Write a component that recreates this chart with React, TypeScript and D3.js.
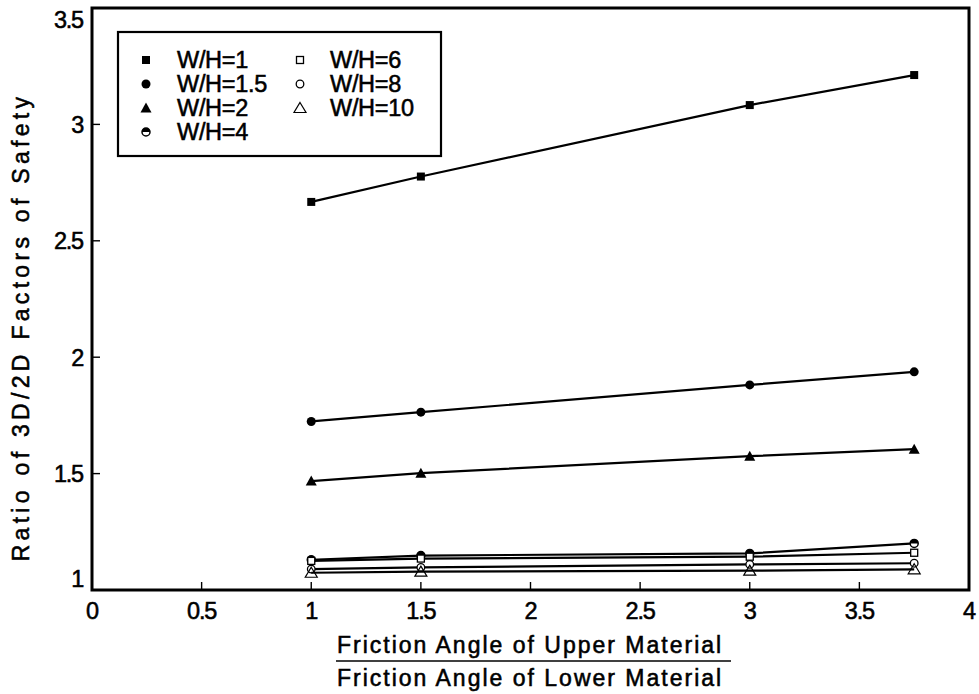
import React from "react";
import * as d3 from "d3";

const xValues = [1, 1.5, 3, 3.75];
const seriesNames = ["W/H=1", "W/H=1.5", "W/H=2", "W/H=4", "W/H=6", "W/H=8", "W/H=10"];
const wh1 = [2.667, 2.776, 3.083, 3.212];
const wh15 = [1.724, 1.764, 1.881, 1.937];
const wh2 = [1.468, 1.502, 1.575, 1.605];
const wh4 = [1.13, 1.148, 1.157, 1.2];
const wh6 = [1.125, 1.135, 1.143, 1.16];
const wh8 = [1.09, 1.097, 1.11, 1.115];
const wh10 = [1.074, 1.079, 1.083, 1.089];
const markerKinds = ["fsquare", "fcircle", "ftriangle", "halfcircle", "osquare", "ocircle", "otriangle"];
const xTicks = [0, 0.5, 1, 1.5, 2, 2.5, 3, 3.5, 4];
const xTickLabels = ["0", "0.5", "1", "1.5", "2", "2.5", "3", "3.5", "4"];
const yTicks = [1, 1.5, 2, 2.5, 3, 3.5];
const yTickLabels = ["1", "1.5", "2", "2.5", "3", "3.5"];

const allSeries = [wh1, wh15, wh2, wh4, wh6, wh8, wh10];

const FONT = "'Liberation Sans', Arial, Helvetica, sans-serif";
const TEXT_STROKE = { stroke: "#000", strokeWidth: 0.55 };

function Marker({ kind, x, y }: { kind: string; x: number; y: number }) {
  switch (kind) {
    case "fsquare":
      return <rect x={x - 4} y={y - 4} width={8} height={8} fill="#000" />;
    case "fcircle":
      return <circle cx={x} cy={y} r={4.5} fill="#000" />;
    case "ftriangle":
      return <path d={`M${x},${y - 5.5}L${x + 5.5},${y + 4.5}L${x - 5.5},${y + 4.5}Z`} fill="#000" />;
    case "halfcircle":
      return (
        <g>
          <circle cx={x} cy={y} r={4} fill="#fff" stroke="#000" strokeWidth={1.5} />
          <path d={`M${x - 4},${y}A4,4 0 0 1 ${x + 4},${y}Z`} fill="#000" />
        </g>
      );
    case "osquare":
      return <rect x={x - 3.5} y={y - 3.5} width={7} height={7} fill="#fff" stroke="#000" strokeWidth={1.3} />;
    case "ocircle":
      return <circle cx={x} cy={y} r={3.8} fill="#fff" stroke="#000" strokeWidth={1.3} />;
    case "otriangle":
      return <path d={`M${x},${y - 5.5}L${x + 6},${y + 4.5}L${x - 6},${y + 4.5}Z`} fill="none" stroke="#000" strokeWidth={1.2} />;
    default:
      return null;
  }
}

export default function App() {
  const W = 979;
  const H = 694;
  const left = 92;
  const right = 969;
  const top = 8;
  const bottom = 590;
  const x = d3.scaleLinear().domain([0, 4]).range([left, right]);
  const y = d3.scaleLinear().domain([1, 3.5]).range([bottom, top]);
  const line = d3
    .line<number>()
    .x((_, i) => x(xValues[i]))
    .y((d) => y(d));

  const legendRows = seriesNames.map((name, i) => {
    const col = i < 4 ? 0 : 1;
    const row = i < 4 ? i : i - 4;
    return { name, kind: markerKinds[i], col, row };
  });

  return (
    <svg width={W} height={H} style={{ position: "absolute", left: 0, top: 0 }} fontFamily={FONT}>
      <rect x={0} y={0} width={W} height={H} fill="#fff" />
      {xTicks.map((t) => (
        <line key={"xt" + t} x1={x(t)} x2={x(t)} y1={bottom} y2={bottom - 8} stroke="#000" strokeWidth={1.4} />
      ))}
      {yTicks.map((t) => (
        <line key={"yt" + t} x1={left} x2={left + 8} y1={y(t)} y2={y(t)} stroke="#000" strokeWidth={1.4} />
      ))}
      <rect x={left} y={top} width={right - left} height={bottom - top} fill="none" stroke="#000" strokeWidth={3} />
      {xTicks.map((t, i) => (
        <text key={"xl" + t} x={x(t)} y={619} textAnchor="middle" fontSize={23.5} letterSpacing={-1.2} {...TEXT_STROKE}>
          {xTickLabels[i]}
        </text>
      ))}
      {yTicks.map((t, i) => {
        const yy = Math.min(Math.max(y(t), top + 12), bottom - 11);
        return (
          <text key={"yl" + t} x={83} y={yy} dy="0.36em" textAnchor="end" fontSize={23.5} letterSpacing={-1.2} {...TEXT_STROKE}>
            {yTickLabels[i]}
          </text>
        );
      })}
      {allSeries.map((s, si) => (
        <g key={"s" + si}>
          <path d={line(s) || ""} fill="none" stroke="#000" strokeWidth={2.2} />
          {s.map((v, i) => (
            <Marker key={i} kind={markerKinds[si]} x={x(xValues[i])} y={y(v)} />
          ))}
        </g>
      ))}
      <rect x={118} y={32} width={323} height={124} fill="#fff" stroke="#000" strokeWidth={2.2} />
      {legendRows.map((r) => {
        const mx = r.col === 0 ? 146 : 300;
        const tx = r.col === 0 ? 177 : 330;
        const yy = 60 + r.row * 24;
        return (
          <g key={r.name}>
            <Marker kind={r.kind} x={mx} y={yy} />
            <text x={tx} y={yy} dy="0.36em" fontSize={23.5} letterSpacing={-0.3} {...TEXT_STROKE}>
              {r.name}
            </text>
          </g>
        );
      })}
      <text
        transform={`translate(29,${327}) rotate(-90)`}
        textAnchor="middle"
        fontSize={23}
        letterSpacing={4.3}
        {...TEXT_STROKE}
      >
        Ratio of 3D/2D Factors of Safety
      </text>
      <text x={337} y={653} fontSize={23} letterSpacing={2.0} {...TEXT_STROKE}>
        Friction Angle of Upper Material
      </text>
      <line x1={336} x2={731} y1={661} y2={661} stroke="#000" strokeWidth={1.3} />
      <text x={337} y={686} fontSize={23} letterSpacing={2.0} {...TEXT_STROKE}>
        Friction Angle of Lower Material
      </text>
    </svg>
  );
}
